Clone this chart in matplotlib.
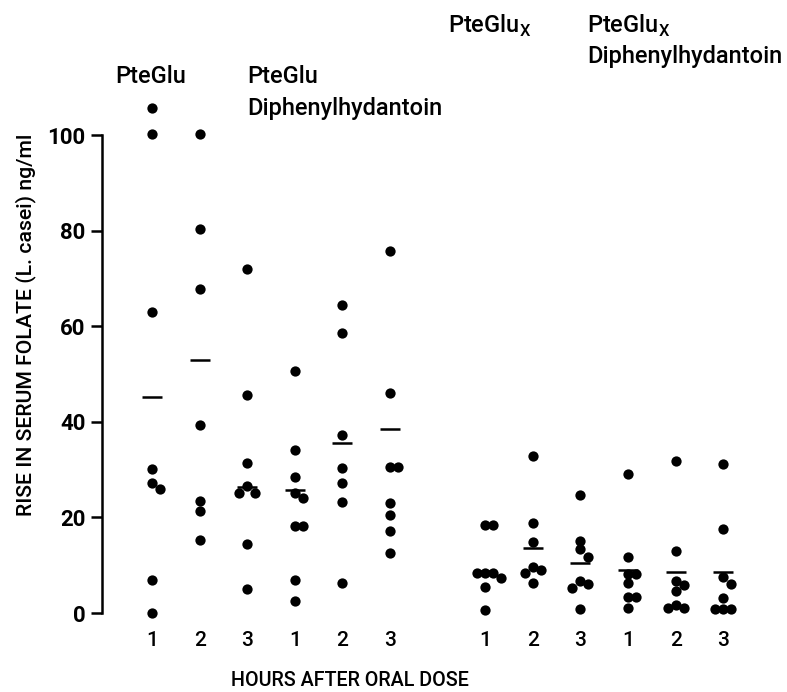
import numpy as np
import matplotlib
matplotlib.use("Agg")
import matplotlib.pyplot as plt

FONT = ['Roboto', 'DejaVu Sans']
plt.rcParams['font.family'] = FONT
plt.rcParams['font.weight'] = 'medium'
plt.rcParams['mathtext.fontset'] = 'custom'
plt.rcParams['mathtext.rm'] = 'Roboto:medium'

# ---------------- data ----------------
hours = ["1", "2", "3"]
group_line1 = ["PteGlu", "PteGlu", "PteGlu$_\\mathregular{X}$", "PteGlu$_\\mathregular{X}$"]
group_line2 = ["", "Diphenylhydantoin", "", "Diphenylhydantoin"]

pteglu_1h = [105.7, 100.3, 62.9, 30.2, 27.1, 25.9, 7.0, 0.1]
pteglu_2h = [100.3, 80.3, 67.8, 39.3, 23.4, 21.4, 15.3]
pteglu_3h = [71.9, 45.7, 31.3, 26.6, 25.2, 25.2, 14.5, 5.1]
ptegludph_1h = [50.7, 34.2, 28.5, 25.2, 24.1, 18.2, 18.2, 6.9, 2.5]
ptegludph_2h = [64.4, 58.6, 37.2, 30.3, 27.1, 23.3, 6.2]
ptegludph_3h = [75.8, 46.0, 30.6, 30.6, 23.1, 20.5, 17.2, 12.5]
pteglux_1h = [18.4, 18.4, 8.3, 8.3, 8.3, 7.3, 5.5, 0.6]
pteglux_2h = [32.8, 18.8, 14.9, 9.6, 8.9, 8.4, 6.3]
pteglux_3h = [24.7, 15.1, 13.3, 11.8, 6.6, 6.0, 5.2, 0.8]
pteglux_dph_1h = [29.0, 11.8, 8.1, 8.1, 6.3, 3.4, 3.4, 1.1]
pteglux_dph_2h = [31.8, 13.0, 6.7, 5.9, 4.7, 1.7, 1.1, 1.1]
pteglux_dph_3h = [31.1, 17.6, 7.6, 6.1, 3.1, 0.9, 0.9, 0.9]

means = [45.2, 52.9, 26.4, 25.7, 35.5, 38.5, 8.8, 13.7, 10.4, 9.0, 8.5, 8.6]

columns = [pteglu_1h, pteglu_2h, pteglu_3h,
           ptegludph_1h, ptegludph_2h, ptegludph_3h,
           pteglux_1h, pteglux_2h, pteglux_3h,
           pteglux_dph_1h, pteglux_dph_2h, pteglux_dph_3h]

# ---------------- layout ----------------
W, H, DPI = 787, 692, 100
fig = plt.figure(figsize=(W / DPI, H / DPI), dpi=DPI)
ax_left, ax_right = 102, 780          # pixels
ax_top, ax_bottom = 135, 613
ax = fig.add_axes([ax_left / W, 1 - ax_bottom / H,
                   (ax_right - ax_left) / W, (ax_bottom - ax_top) / H])

positions = [0, 1, 2, 3, 4, 5, 7, 8, 9, 10, 11, 12]
col_px = 47.6
x0 = -(152 - ax_left) / col_px
x1 = x0 + (ax_right - ax_left) / col_px
ax.set_xlim(x0, x1)
ax.set_ylim(0, 100)

px_per_x = col_px
px_per_y = (ax_bottom - ax_top) / 100.0
dot_d = 10.0  # pixels


def swarm(values):
    """simple beeswarm: x offsets (data units) so that dots don't overlap"""
    placed = []
    offs = []
    for v in values:
        yp = v * px_per_y
        cands = [0, 8, -8, 16, -16, 24, -24]
        chosen = cands[-1]
        for c in cands:
            ok = all((c - px) ** 2 + (yp - py) ** 2 >= (0.8 * dot_d) ** 2 for px, py in placed)
            if ok:
                chosen = c
                break
        placed.append((chosen, yp))
        offs.append(chosen / px_per_x)
    return offs


for pos, vals in zip(positions, columns):
    offs = swarm(vals)
    ax.plot([pos + o for o in offs], vals, 'o', color='black', ms=7.4,
            mew=0, clip_on=False, zorder=3)

half = 10 / px_per_x
ax.hlines(means, [p - half for p in positions], [p + half for p in positions],
          color='black', lw=1.8, zorder=2, clip_on=False)

# axes styling
for s in ['top', 'right', 'bottom']:
    ax.spines[s].set_visible(False)
ax.spines['left'].set_linewidth(1.8)
ax.spines['left'].set_bounds(0, 100)
ax.set_yticks([0, 20, 40, 60, 80, 100])
ax.tick_params(axis='y', direction='out', length=8, width=1.8, pad=4,
               labelsize=16)
for lab in ax.get_yticklabels():
    lab.set_fontweight('bold')
ax.set_xticks(positions)
ax.set_xticklabels(hours * 4)
ax.tick_params(axis='x', length=0, pad=13, labelsize=15)

# axis titles
fig.text(26 / W, 1 - 325 / H, "RISE IN SERUM FOLATE (L. casei) ng/ml",
         rotation=90, ha='center', va='center', fontsize=15.3)
fig.text(350 / W, 1 - 680 / H, "HOURS AFTER ORAL DOSE",
         ha='center', va='center', fontsize=14.2)

# group labels (pixel layout)
label_x_px = [115, 247, 448, 587]
line1_base_px = [83, 83, 33, 33]
line_gap_px = [32, 32, 30, 30]
for xp, l1, l2, yb, gap in zip(label_x_px, group_line1, group_line2,
                               line1_base_px, line_gap_px):
    fig.text(xp / W, 1 - yb / H, l1, ha='left', va='baseline', fontsize=17)
    if l2:
        fig.text(xp / W, 1 - (yb + gap) / H, l2, ha='left', va='baseline',
                 fontsize=17)

fig.savefig("out.png", dpi=DPI, facecolor='white')
